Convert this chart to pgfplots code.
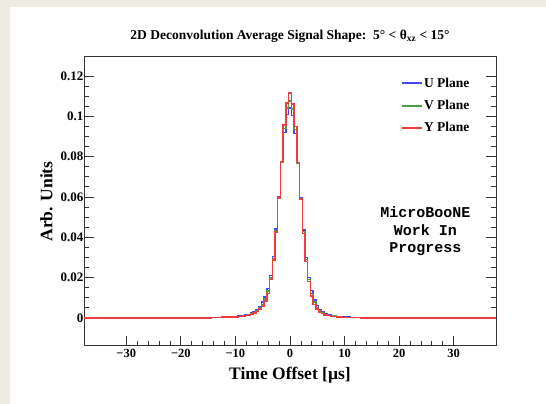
\documentclass[border=0pt]{standalone}
\usepackage{fontspec}
\setmainfont{Liberation Serif}
\newfontfamily\monofont{Liberation Mono}
\usepackage{pgfplots}
\usepackage{pgfplotstable}
\pgfplotsset{compat=1.18}

\definecolor{pagebg}{RGB}{239,236,228}
\definecolor{uplane}{RGB}{70,70,245}
\definecolor{vplane}{RGB}{70,160,70}
\definecolor{yplane}{RGB}{240,60,60}

% average deconvolved signal per plane, 0.5 us bins
\pgfplotstableread{
t      u       v       y
-37.75 0       0       0
-15    0       0       0
-14    0.0002  0.0002  0.0002
-13    0.0003  0.0003  0.0003
-12    0.0004  0.0004  0.0004
-11    0.0005  0.0005  0.0005
-10    0.0007  0.0006  0.0006
-9     0.0009  0.0008  0.0008
-8.5   0.0011  0.0010  0.0009
-8     0.0014  0.0012  0.0011
-7.5   0.0018  0.0016  0.0014
-7     0.0024  0.0021  0.0018
-6.5   0.0032  0.0028  0.0024
-6     0.0043  0.0037  0.0032
-5.5   0.0058  0.0050  0.0044
-5     0.0078  0.0068  0.0060
-4.5   0.0105  0.0094  0.0085
-4     0.0145  0.0133  0.0122
-3.5   0.0210  0.0198  0.0190
-3     0.0305  0.0295  0.0288
-2.5   0.0440  0.0432  0.0426
-2     0.0600  0.0598  0.0595
-1.5   0.0772  0.0773  0.0775
-1     0.0920  0.0940  0.0957
-0.5   0.1010  0.1040  0.1066
0      0.1040  0.1075  0.1115
0.5    0.1005  0.1035  0.1060
1      0.0915  0.0935  0.0950
1.5    0.0765  0.0768  0.0770
2      0.0595  0.0592  0.0590
2.5    0.0435  0.0428  0.0420
3      0.0300  0.0290  0.0280
3.5    0.0200  0.0190  0.0180
4      0.0135  0.0122  0.0110
4.5    0.0090  0.0078  0.0068
5      0.0062  0.0052  0.0045
5.5    0.0042  0.0036  0.0030
6      0.0030  0.0025  0.0021
6.5    0.0022  0.0018  0.0015
7      0.0016  0.0013  0.0011
8      0.0010  0.0009  0.0008
9      0.0006  0.0005  0.0005
10     0.0004  0.0003  0.0003
12     0.0002  0.0002  0.0002
14     0       0       0
37.75  0       0       0
}\signaltable

\begin{document}
\begin{tikzpicture}[x=1pt,y=1pt]
\fill[pagebg] (0,0) rectangle (546,404);
\fill[white] (10,0) rectangle (546,397);
\begin{axis}[
  at={(84pt,58pt)}, anchor=south west,
  scale only axis, width=412pt, height=289pt,
  xmin=-37.75, xmax=37.75,
  ymin=-0.0139, ymax=0.1294,
  axis line style={line width=1pt, black!80},
  tick align=inside,
  xtick pos=bottom, ytick pos=both,
  xtick={-30,-20,-10,0,10,20,30},
  xticklabels={−30,−20,−10,0,10,20,30},
  ytick={0,0.02,0.04,0.06,0.08,0.1,0.12},
  yticklabels={0,0.02,0.04,0.06,0.08,0.1,0.12},
  minor x tick num=4, minor y tick num=3,
  major tick length=10pt, minor tick length=5pt,
  tick style={line width=0.8pt, black!80},
  xticklabel style={font=\fontsize{12.5}{14}\selectfont\bfseries, inner sep=1pt, yshift=-2pt},
  yticklabel style={font=\fontsize{13}{15}\selectfont\bfseries, inner sep=0.5pt},
  xlabel={Time Offset [µs]},
  ylabel={Arb. Units},
  xlabel style={font=\fontsize{17.5}{20}\selectfont\bfseries, at={(axis description cs:0.5,-0.100)}, anchor=center},
  ylabel style={font=\fontsize{17.5}{20}\selectfont\bfseries, at={(axis description cs:-0.091,0.5)}, anchor=center, rotate=0},
  title={2D Deconvolution Average Signal Shape:\ \ 5° < θ\textsubscript{xz} < 15°},
  title style={font=\fontsize{13.5}{16}\selectfont\bfseries, at={(axis description cs:0.5,1.052)}, anchor=center},
  legend style={at={(axis description cs:0.768,0.934)}, anchor=north west,
    draw=none, fill=none, inner sep=0pt, row sep=8.5pt,
    font=\fontsize{13.5}{16}\selectfont\bfseries,
    nodes={inner sep=1.5pt}},
  legend cell align=left,
  legend image code/.code={\draw[#1, line width=2pt] (0pt,0pt) -- (20pt,0pt);},
  every axis plot/.append style={const plot mark mid, line width=1.5pt, mark=none},
]
\addplot[uplane] table[x=t, y=u] {\signaltable};
\addlegendentry{U Plane}
\addplot[vplane] table[x=t, y=v] {\signaltable};
\addlegendentry{V Plane}
\addplot[yplane] table[x=t, y=y] {\signaltable};
\addlegendentry{Y Plane}
\node[align=center, font=\monofont\bfseries\fontsize{15}{17.5}\selectfont]
  at (axis cs:24.8,0.0430) {MicroBooNE\\Work In\\Progress};
\end{axis}
\end{tikzpicture}
\end{document}
